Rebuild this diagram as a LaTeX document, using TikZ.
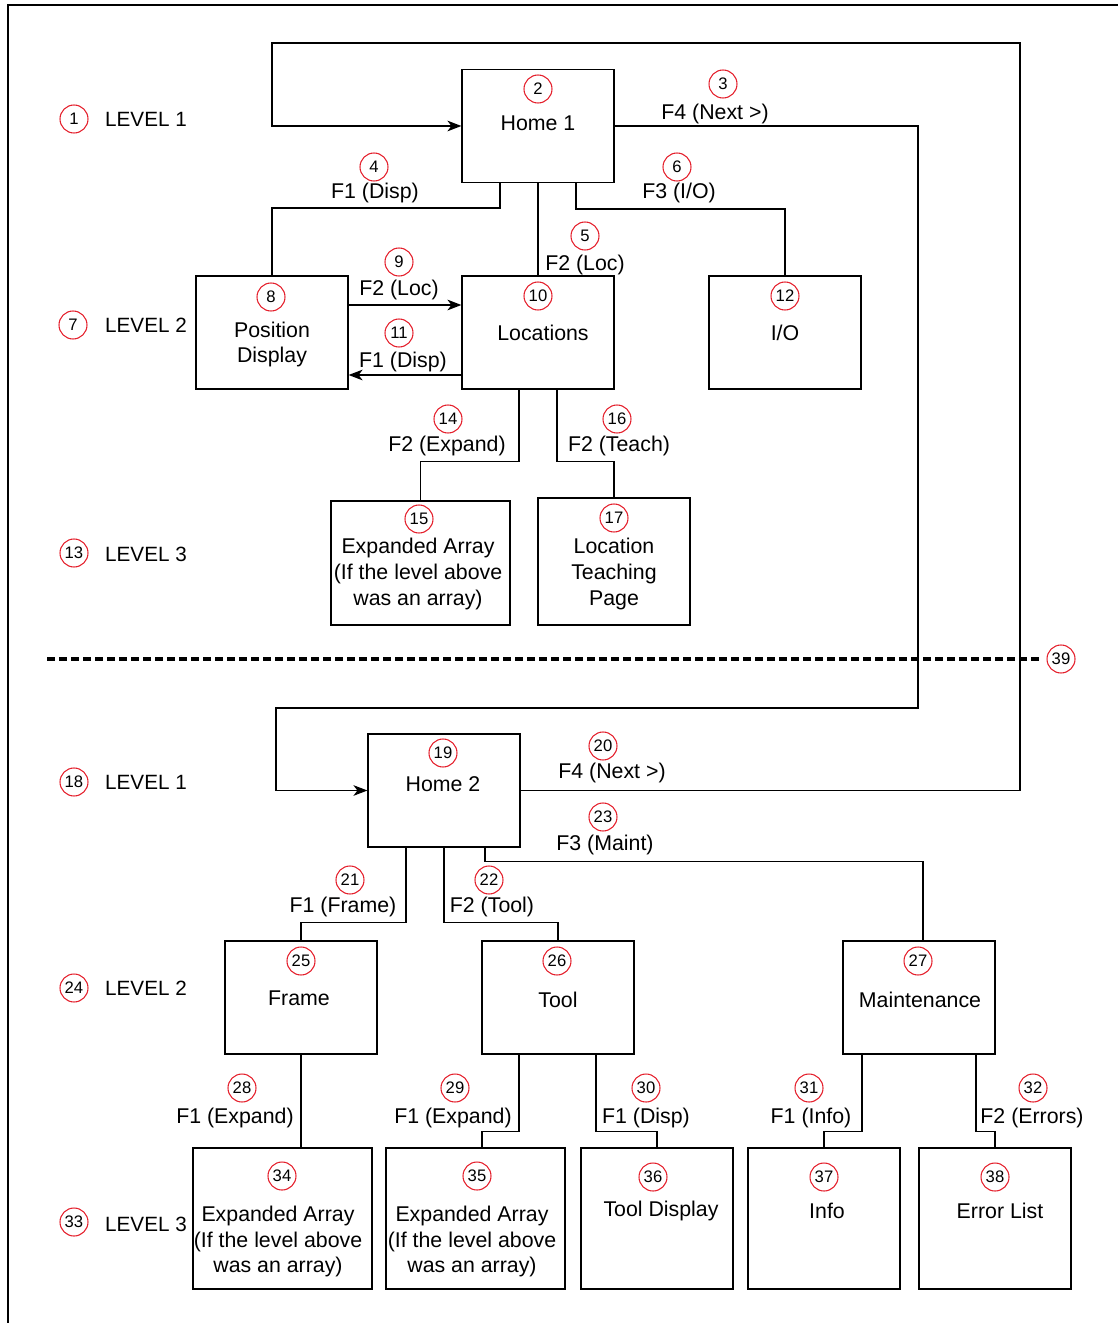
\documentclass[tikz,border=0pt]{standalone}
\usepackage{fontspec}
\setmainfont{Liberation Sans}
\usetikzlibrary{calc,arrows.meta}
\definecolor{numred}{RGB}{228,32,44}
\begin{document}
\begin{tikzpicture}[x=0.75pt,y=-0.75pt,
  box/.style={draw,line width=0.9pt,minimum width=114pt,minimum height=84.75pt,inner sep=0pt},
  wide/.style={minimum width=134.25pt},
  tall/.style={minimum height=105.75pt},
  num/.style={circle,draw=numred,line width=0.8pt,minimum size=21pt,inner sep=0pt,font=\fontsize{12.5}{12.5}\selectfont},
  txt/.style={inner sep=0pt,align=center,font=\fontsize{16}{19.2}\selectfont},
  lvl/.style={inner sep=0pt,font=\fontsize{15.5}{18}\selectfont},
  conn/.style={line width=0.9pt},
  arr/.style={conn,-{Stealth[length=10.5pt,width=8pt,inset=3pt]}},
  sep/.style={line width=2.4pt,dash pattern=on 6pt off 3pt}
]
\useasboundingbox (0,0) rectangle (1118,1323);
% frame
\draw[line width=2.2pt] (8,1323) -- (8,5) -- (1118,5);

% level labels
\node[num] (n1) at (74,119) {1};   \node[lvl] (l1) at (146,119) {LEVEL 1};
\node[num] (n7) at (73,325) {7};   \node[lvl] (l2) at (146,325) {LEVEL 2};
\node[num] (n13) at (74,553) {13}; \node[lvl] (l3) at (146,554) {LEVEL 3};
\node[num] (n18) at (74,782) {18}; \node[lvl] (l4) at (146,782) {LEVEL 1};
\node[num] (n24) at (74,988) {24}; \node[lvl] (l5) at (146,988) {LEVEL 2};
\node[num] (n33) at (74,1222) {33};\node[lvl] (l6) at (146,1224) {LEVEL 3};

% boxes
\node[box] (home1) at (538,126) {};
\node[box] (pd) at (272,332.5) {};
\node[box] (loc) at (538,332.5) {};
\node[box] (io) at (785,332.5) {};
\node[box,wide,minimum height=93pt] (exp15) at (420.5,563) {};
\node[box,minimum height=95.25pt] (teach) at (614,561.5) {};
\node[box] (home2) at (444,790.5) {};
\node[box] (frame) at (301,997.5) {};
\node[box] (tool) at (558,997.5) {};
\node[box] (maint) at (919,997.5) {};
\node[box,wide,tall] (exp34) at (282.5,1218.5) {};
\node[box,wide,tall] (exp35) at (475.5,1218.5) {};
\node[box,tall] (tdisp) at (657,1218.5) {};
\node[box,tall] (info) at (824,1218.5) {};
\node[box,tall] (err) at (995,1218.5) {};

% box contents
\node[num] (n2) at (538,89) {2};    \node[txt] (t2) at (538,123) {Home 1};
\node[num] (n8) at (271,297) {8};   \node[txt] (t8) at (272,344.5) {Position\\Display};
\node[num] (n10) at (538,296) {10}; \node[txt] (t10) at (543,333) {Locations};
\node[num] (n12) at (785,296) {12}; \node[txt] (t12) at (785,333) {I/O};
\node[num] (n15) at (419,519) {15}; \node[txt] (t15) at (418,574) {Expanded Array\\(If the level above\\was an array)};
\node[num] (n17) at (614,518) {17}; \node[txt] (t17) at (614,574) {Location\\Teaching\\Page};
\node[num] (n19) at (443,753) {19}; \node[txt] (t19) at (443,784) {Home 2};
\node[num] (n25) at (301,961) {25}; \node[txt] (t25) at (299,998) {Frame};
\node[num] (n26) at (557,961) {26}; \node[txt] (t26) at (558,1000) {Tool};
\node[num] (n27) at (918,961) {27}; \node[txt] (t27) at (920,1000) {Maintenance};
\node[num] (n34) at (282,1176) {34};\node[txt] (t34) at (278,1241.5) {Expanded Array\\(If the level above\\was an array)};
\node[num] (n35) at (477,1176) {35};\node[txt] (t35) at (472,1241.5) {Expanded Array\\(If the level above\\was an array)};
\node[num] (n36) at (653,1177) {36};\node[txt] (t36) at (661,1211) {Tool Display};
\node[num] (n37) at (824,1177) {37};\node[txt] (t37) at (827,1211) {Info};
\node[num] (n38) at (995,1177) {38};\node[txt] (t38) at (1000,1211) {Error List};

% connector labels
\node[num] (n3) at (723,84) {3};    \node[txt] (c3) at (715,113.5) {F4 (Next >)};
\node[num] (n4) at (374,167) {4};   \node[txt] (c4) at (375,193) {F1 (Disp)};
\node[num] (n5) at (585,236) {5};   \node[txt] (c5) at (585,265) {F2 (Loc)};
\node[num] (n6) at (677,167) {6};   \node[txt] (c6) at (679,193) {F3 (I/O)};
\node[num] (n9) at (399,262) {9};   \node[txt] (c9) at (399,290) {F2 (Loc)};
\node[num] (n11) at (399,333) {11}; \node[txt] (c11) at (403,362) {F1 (Disp)};
\node[num] (n14) at (448,419) {14}; \node[txt] (c14) at (447,446) {F2 (Expand)};
\node[num] (n16) at (617,419) {16}; \node[txt] (c16) at (619,446) {F2 (Teach)};
\node[num] (n39) at (1061,659) {39};
\node[num] (n20) at (603,746) {20}; \node[txt] (c20) at (612,773) {F4 (Next >)};
\node[num] (n23) at (603,817) {23}; \node[txt] (c23) at (605,845) {F3 (Maint)};
\node[num] (n21) at (350,880) {21}; \node[txt] (c21) at (343,907) {F1 (Frame)};
\node[num] (n22) at (489,880) {22}; \node[txt] (c22) at (492,907) {F2 (Tool)};
\node[num] (n28) at (242,1088) {28};\node[txt] (c28) at (235,1118) {F1 (Expand)};
\node[num] (n29) at (455,1088) {29};\node[txt] (c29) at (453,1118) {F1 (Expand)};
\node[num] (n30) at (646,1088) {30};\node[txt] (c30) at (646,1118) {F1 (Disp)};
\node[num] (n31) at (809,1088) {31};\node[txt] (c31) at (811,1118) {F1 (Info)};
\node[num] (n32) at (1033,1088) {32};\node[txt] (c32) at (1032,1118) {F2 (Errors)};

% separator
\coordinate (dl) at (47,659);
\draw[sep] (dl) -- ($(n39.west)+(-7,0)$);

% loops
\coordinate (tr) at (1020,43);
\coordinate (tl) at (272,43);
\coordinate (br) at (918,708);
\coordinate (bl) at (276,708);
\draw[arr] (home2.east) -| (tr) -- (tl) |- (home1.west);
\draw[arr] (home1.east) -| (br) -- (bl) |- (home2.west);

% level 1 -> level 2 (top)
\draw[conn] ($(home1.south)+(-38,0)$) -- ++(0,25) -| (pd.north);
\draw[conn] (home1.south) -- (loc.north);
\draw[conn] ($(home1.south)+(38,0)$) -- ++(0,26) -| (io.north);
\draw[arr] ($(pd.east)+(0,-27.5)$) -- ($(loc.west)+(0,-27.5)$);
\draw[arr] ($(loc.west)+(0,42.5)$) -- ($(pd.east)+(0,42.5)$);
\draw[conn] ($(loc.south)+(-19,0)$) -- ++(0,72) -| (exp15.north);
\draw[conn] ($(loc.south)+(19,0)$) -- ++(0,72) -| (teach.north);

% bottom half
\draw[conn] ($(home2.south)+(-38,0)$) -- ++(0,75) -| (frame.north);
\draw[conn] (home2.south) -- ++(0,75) -| (tool.north);
\draw[conn] ($(home2.south)+(41,0)$) -- ++(0,14) -| ($(maint.north)+(4,0)$);
\draw[conn] (frame.south) -- (frame.south |- exp34.north);
\draw[conn] ($(tool.south)+(-39,0)$) -- ++(0,77) -| ($(exp35.north)+(6.5,0)$);
\draw[conn] ($(tool.south)+(38,0)$) -- ++(0,77) -| (tdisp.north);
\draw[conn] ($(maint.south)+(-57,0)$) -- ++(0,77) -| (info.north);
\draw[conn] ($(maint.south)+(57,0)$) -- ++(0,77) -| (err.north);
\end{tikzpicture}
\end{document}
